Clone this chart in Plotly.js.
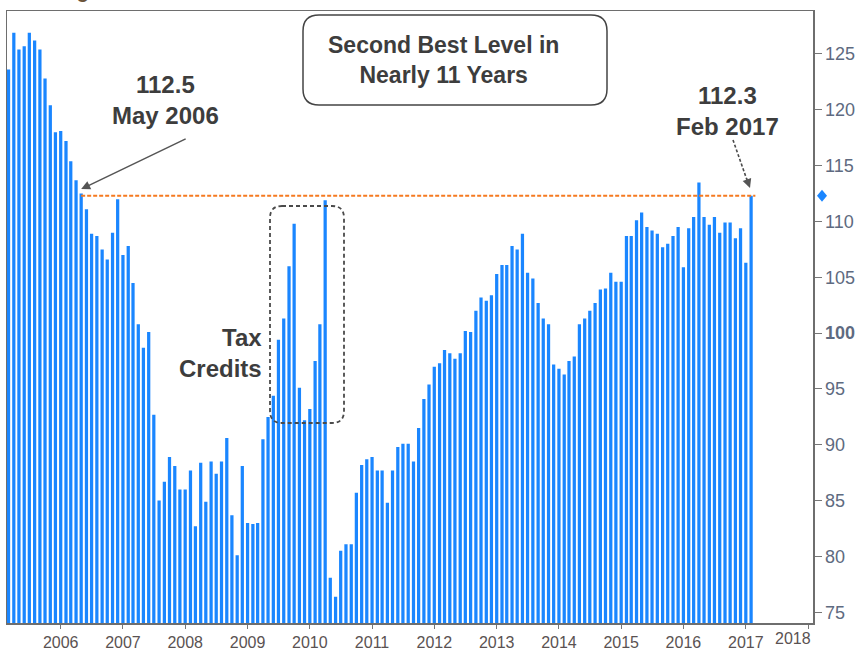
<!DOCTYPE html>
<html><head><meta charset="utf-8">
<script src="https://cdn.plot.ly/plotly-3.0.1.min.js"></script>
<style>html,body{margin:0;padding:0;background:#fff}</style>
</head><body><div id="chart" style="width:865px;height:652px"></div>
<script>
// Monthly Pending Home Sales Index, Mar 2005 - Feb 2017
const months = [
  '2005-03','2005-04','2005-05','2005-06','2005-07','2005-08','2005-09','2005-10','2005-11','2005-12',
  '2006-01','2006-02','2006-03','2006-04','2006-05','2006-06','2006-07','2006-08','2006-09','2006-10','2006-11','2006-12',
  '2007-01','2007-02','2007-03','2007-04','2007-05','2007-06','2007-07','2007-08','2007-09','2007-10','2007-11','2007-12',
  '2008-01','2008-02','2008-03','2008-04','2008-05','2008-06','2008-07','2008-08','2008-09','2008-10','2008-11','2008-12',
  '2009-01','2009-02','2009-03','2009-04','2009-05','2009-06','2009-07','2009-08','2009-09','2009-10','2009-11','2009-12',
  '2010-01','2010-02','2010-03','2010-04','2010-05','2010-06','2010-07','2010-08','2010-09','2010-10','2010-11','2010-12',
  '2011-01','2011-02','2011-03','2011-04','2011-05','2011-06','2011-07','2011-08','2011-09','2011-10','2011-11','2011-12',
  '2012-01','2012-02','2012-03','2012-04','2012-05','2012-06','2012-07','2012-08','2012-09','2012-10','2012-11','2012-12',
  '2013-01','2013-02','2013-03','2013-04','2013-05','2013-06','2013-07','2013-08','2013-09','2013-10','2013-11','2013-12',
  '2014-01','2014-02','2014-03','2014-04','2014-05','2014-06','2014-07','2014-08','2014-09','2014-10','2014-11','2014-12',
  '2015-01','2015-02','2015-03','2015-04','2015-05','2015-06','2015-07','2015-08','2015-09','2015-10','2015-11','2015-12',
  '2016-01','2016-02','2016-03','2016-04','2016-05','2016-06','2016-07','2016-08','2016-09','2016-10','2016-11','2016-12',
  '2017-01','2017-02'
];
const indexValues = [
  123.6,126.9,125.4,125.7,126.9,126.2,125.4,122.8,120.4,118.0,
  118.1,117.2,115.4,113.7,112.5,111.1,108.9,108.7,107.5,106.6,109.0,112.0,
  107.0,107.8,104.5,100.8,98.7,100.1,92.7,85.0,86.7,88.9,88.1,86.0,
  86.0,87.7,82.7,88.4,84.9,88.5,87.4,88.5,90.6,83.7,80.1,88.1,
  83.0,82.9,83.0,90.5,92.5,94.4,99.4,101.3,106.0,109.8,95.1,92.2,
  93.2,97.5,100.8,111.9,78.1,76.4,80.5,81.1,81.1,85.7,88.2,88.7,
  88.9,87.7,87.7,84.8,87.7,89.8,90.1,90.1,88.5,91.5,94.1,95.4,
  97.0,97.3,98.5,98.2,97.7,98.2,100.2,100.1,102.0,103.2,102.9,103.4,
  105.3,106.1,106.1,107.8,107.5,108.9,105.4,104.9,102.7,101.3,100.8,97.2,
  96.8,96.3,97.5,97.9,100.8,101.3,102.0,102.7,103.9,104.0,105.4,104.6,
  104.6,108.7,108.7,110.1,110.8,109.5,109.2,108.9,107.7,108.0,108.7,109.5,
  105.9,109.4,110.4,113.5,110.4,109.7,110.4,109.0,109.9,109.9,108.5,109.4,
  106.3,112.3
];
const yearLabels = ['2006','2007','2008','2009','2010','2011','2012','2013','2014','2015','2016','2017','2018'];
const yTickValues = [75,80,85,90,95,100,105,110,115,120,125];

const refMonth = '2006-05';   // 112.5, May 2006
const lastIdx = indexValues.length - 1;
const lastValue = indexValues[lastIdx];
const refValue = indexValues[months.indexOf(refMonth)];

// layout geometry (pixels)
const W = 865, H = 652, mL = 7, mR = 52, mT = 11, mB = 29;
const pw = W - mL - mR, ph = H - mT - mB;
const xp = px => (px - mL) / pw;
const yp = py => (H - mB - py) / ph;
const yRange = [74.04, 128.85];

function rr(x0, y0, x1, y1, r) {
  const P = (x, y) => `${xp(x)},${yp(y)}`;
  return `M ${P(x0 + r, y0)} L ${P(x1 - r, y0)} Q ${P(x1, y0)} ${P(x1, y0 + r)} L ${P(x1, y1 - r)} Q ${P(x1, y1)} ${P(x1 - r, y1)} L ${P(x0 + r, y1)} Q ${P(x0, y1)} ${P(x0, y1 - r)} L ${P(x0, y0 + r)} Q ${P(x0, y0)} ${P(x0 + r, y0)} Z`;
}

const dates = months.map(m => m + '-01');
const FONT = 'Liberation Sans, Arial, sans-serif';
const annColor = '#3d3d3d';

const trace = {
  type: 'bar', x: dates, y: indexValues,
  marker: {color: '#1a86ff', line: {width: 0}},
  hoverinfo: 'x+y'
};

const yPaper = v => (v - yRange[0]) / (yRange[1] - yRange[0]);
const dCx = xp(822), dCy = yPaper(lastValue), dHx = 5 / pw, dHy = 6 / ph;

const lastDate = new Date(dates[lastIdx] + 'T00:00:00Z');
const lineEnd = new Date(lastDate.getTime() + 25 * 86400000).toISOString().slice(0, 10);

const layout = {
  width: W, height: H,
  margin: {l: mL, r: mR, t: mT, b: mB, pad: 0},
  paper_bgcolor: '#fff', plot_bgcolor: '#fff',
  bargap: 0.32,
  showlegend: false,
  font: {family: FONT},
  xaxis: {
    type: 'date', range: ['2005-02-20', '2018-01-30'],
    tickvals: yearLabels.map(y => y + '-01-01'),
    ticktext: yearLabels.map((y, i) => i === yearLabels.length - 1 ? '' : y),
    ticks: 'outside', ticklen: 4, tickcolor: '#777', tickwidth: 1,
    showline: true, mirror: true, linecolor: '#6e6e6e', linewidth: 1.5,
    showgrid: false, zeroline: false,
    tickfont: {family: FONT, size: 16, color: '#5a5252'}
  },
  yaxis: {
    side: 'right', range: yRange,
    tickvals: yTickValues,
    ticktext: yTickValues.map(v => v === 100 ? '<b>100</b>' : String(v)),
    ticks: 'outside', ticklen: 7, tickcolor: '#777', tickwidth: 1,
    showline: true, mirror: true, linecolor: '#6e6e6e', linewidth: 1.5,
    showgrid: false, zeroline: false,
    tickfont: {family: FONT, size: 18, color: '#5e6a80'}
  },
  shapes: [
    {type: 'line', xref: 'x', yref: 'y', x0: refMonth + '-01', x1: lineEnd, y0: lastValue, y1: lastValue,
     line: {color: '#f57a20', width: 2, dash: '4px,2px'}},
    {type: 'path', xref: 'paper', yref: 'paper', path: rr(303, 15, 607, 105, 16),
     line: {color: '#444', width: 1.5}},
    {type: 'path', xref: 'paper', yref: 'paper', path: rr(270, 206, 344, 423, 12),
     line: {color: '#4a4a4a', width: 1.8, dash: '4px,3px'}},
    {type: 'line', xref: 'paper', yref: 'paper', x0: xp(733), y0: yp(140), x1: xp(747), y1: yp(180),
     line: {color: '#4a4a4a', width: 1.6, dash: '3px,2px'}},
    {type: 'path', xref: 'paper', yref: 'paper',
     path: `M ${dCx - dHx},${dCy} L ${dCx},${dCy + dHy} L ${dCx + dHx},${dCy} L ${dCx},${dCy - dHy} Z`,
     fillcolor: '#1a86ff', line: {width: 0}}
  ],
  annotations: [
    {xref: 'paper', yref: 'paper', x: xp(443), y: yp(60), xanchor: 'center', yanchor: 'middle',
     text: '<b>Second Best Level in<br>Nearly 11 Years</b>', showarrow: false,
     font: {family: FONT, size: 23, color: annColor}},
    {xref: 'paper', yref: 'paper', x: xp(165), y: yp(100), xanchor: 'center', yanchor: 'middle',
     text: `<b>${refValue.toFixed(1)}<br>May 2006</b>`, showarrow: false,
     font: {family: FONT, size: 24, color: annColor}},
    {xref: 'paper', yref: 'paper', x: xp(727), y: yp(111), xanchor: 'center', yanchor: 'middle',
     text: `<b>${lastValue.toFixed(1)}<br>Feb 2017</b>`, showarrow: false,
     font: {family: FONT, size: 24, color: annColor}},
    {xref: 'paper', yref: 'paper', x: xp(264), y: yp(353), xanchor: 'right', yanchor: 'middle', align: 'right',
     text: '<b>Tax<br>Credits</b>', showarrow: false,
     font: {family: FONT, size: 24, color: annColor}},
    {xref: 'x', yref: 'y', x: refMonth + '-01', y: refValue + 0.4, text: '', showarrow: true,
     ax: 106, ay: -51, arrowhead: 2, arrowsize: 1.2, arrowwidth: 1.5, arrowcolor: '#555'},
    {xref: 'paper', yref: 'paper', x: xp(750), y: yp(188), text: '', showarrow: true,
     ax: -4, ay: -11, arrowhead: 2, arrowsize: 1.2, arrowwidth: 1.5, arrowcolor: '#555'},
    {xref: 'paper', yref: 'paper', x: xp(mL + pw), y: yp(638), xanchor: 'right', yanchor: 'middle',
     text: yearLabels[yearLabels.length - 1], showarrow: false,
     font: {family: FONT, size: 16, color: '#5a5252'}},
    {xref: 'paper', yref: 'paper', x: xp(8), y: yp(4), xanchor: 'left', yanchor: 'bottom',
     text: '<b>Pending Home Sales</b>', showarrow: false,
     font: {family: FONT, size: 20, color: '#6b5238'}}
  ]
};

Plotly.newPlot('chart', [trace], layout, {displayModeBar: false, staticPlot: true});
</script>
</body></html>
